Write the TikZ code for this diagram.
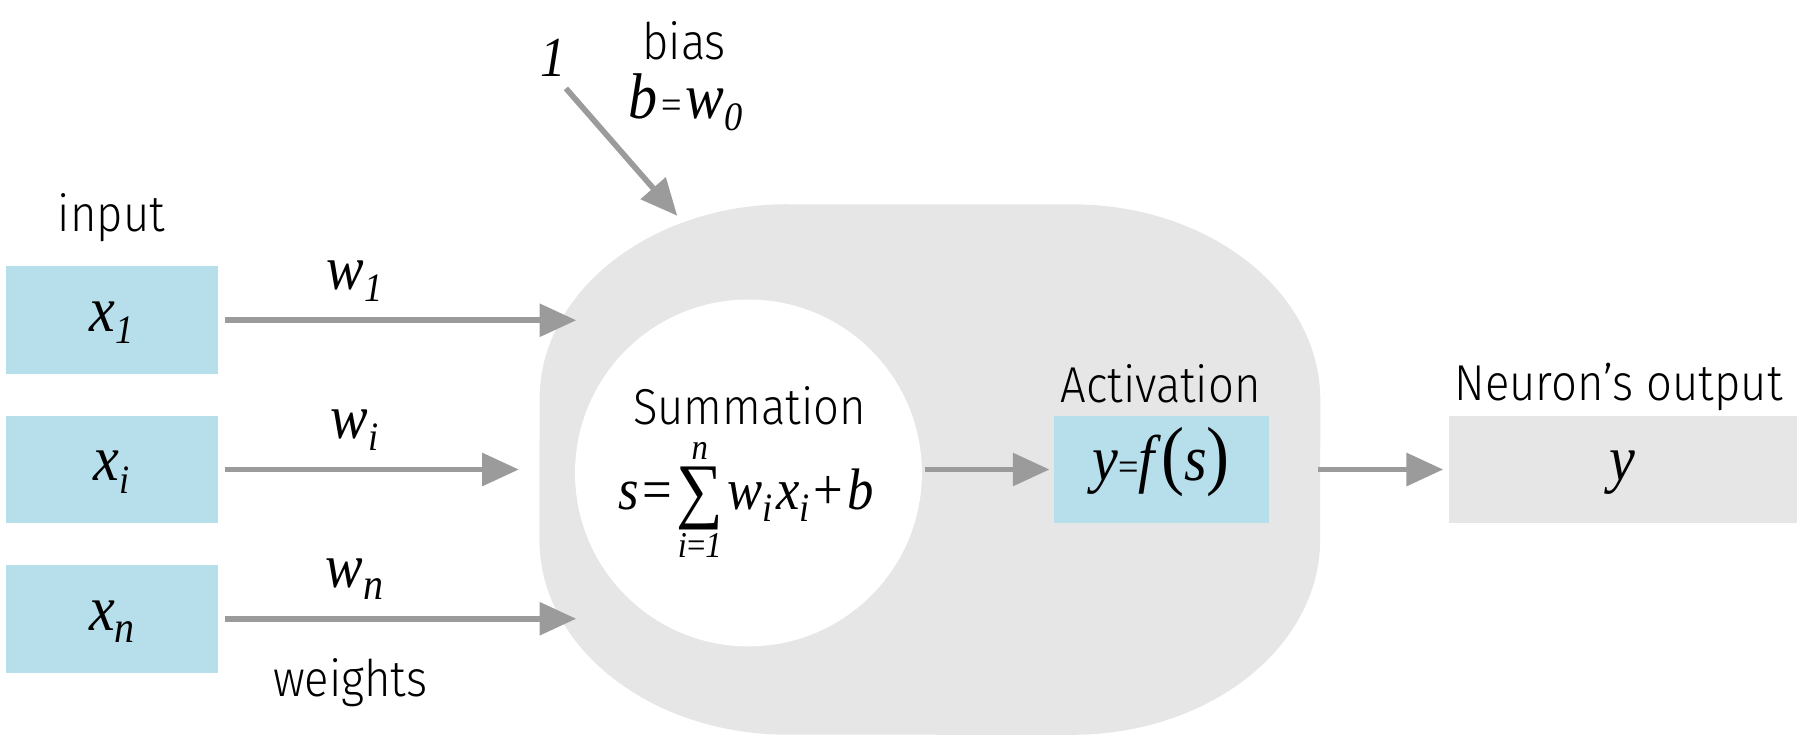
\documentclass[tikz,border=0pt]{standalone}
\usepackage{fontspec}
\setmainfont{Fira Sans Light}[FakeStretch=0.9]
\newfontfamily\tms{Liberation Serif}[FakeStretch=0.9]
\usetikzlibrary{arrows.meta}
\definecolor{boxblue}{HTML}{B7DFEB}
\definecolor{shapegray}{HTML}{E6E6E6}
\definecolor{arrowgray}{HTML}{9B9B9B}
\newsavebox\sigbox
\newcommand\msub[2][10]{\raisebox{-3pt}{\fontsize{#1}{#1}\selectfont #2}}
\newcommand\smalleq{{\upshape\fontsize{10}{10}\selectfont =}}
\newcommand\sumsym{\sbox\sigbox{\raisebox{-1.2pt}{\upshape\fontsize{18}{18}\selectfont ∑}}%
  \rlap{\makebox[\wd\sigbox][c]{\raisebox{12.5pt}{\fontsize{9}{9}\selectfont n}}}%
  \rlap{\makebox[\wd\sigbox][c]{\raisebox{-11.8pt}{\fontsize{9}{9}\selectfont i{\upshape=}1}}}%
  \usebox\sigbox}
\begin{document}
\begin{tikzpicture}[x=0.01cm,y=0.01cm,
  mfont/.style={font=\fontsize{16}{19}\selectfont\tms\itshape},
  wfont/.style={font=\fontsize{15.5}{18}\selectfont\tms\itshape, inner sep=0, anchor=base},
  boxstyle/.style={minimum height=0.94cm, inner sep=0, text height=0.3cm, text depth=0.1cm, mfont},
  inbox/.style={boxstyle, fill=boxblue, minimum width=1.85cm},
  lbl/.style={font=\fontsize{12.5}{15}\selectfont, inner sep=0, anchor=base},
  conn/.style={draw=arrowgray, line width=1.4pt, -{Triangle[length=0.32cm,width=0.28cm]}},
]
\useasboundingbox (0,0) rectangle (1568,648);
% neuron body
\fill[shapegray] (686,470) -- (934,470)
  arc[start angle=90,end angle=0,x radius=2.16cm,y radius=1.7cm] -- (1150,178)
  arc[start angle=0,end angle=-90,x radius=2.16cm,y radius=1.7cm] -- (686,8)
  arc[start angle=270,end angle=180,x radius=2.16cm,y radius=1.7cm] -- (470,300)
  arc[start angle=180,end angle=90,x radius=2.16cm,y radius=1.7cm] -- cycle;
\node[circle, fill=white, minimum size=3.02cm, inner sep=0] (sumc) at (652,236) {};
% inputs
\node[inbox] (x1) at (97.5,369) {x\msub{1}};
\node[inbox] (xi) at (97.5,239) {x\msub{i}};
\node[inbox] (xn) at (97.5,109) {x\msub[11]{n}};
\node[lbl] (inlbl) at (97,446) {input};
\node[lbl] (wlbl) at (305,41) {weights};
\node[wfont] (w1) at (309,396) {w\msub{1}};
\node[wfont] (wi) at (309,266) {w\msub{i}};
\node[wfont] (wn) at (309,136) {w\msub[11]{n}};
\coordinate (e1) at (502,369);
\coordinate (ei) at (452,239);
\coordinate (en) at (502,109);
\draw[conn] ([xshift=0.05cm]x1.east) -- (e1);
\draw[conn] ([xshift=0.05cm]xi.east) -- (ei);
\draw[conn] ([xshift=0.05cm]xn.east) -- (en);
% bias
\node[wfont, font=\fontsize{14}{16}\selectfont\tms\itshape] (one) at (482,581) {1};
\node[lbl] (biaslbl) at (596,596) {bias};
\node[wfont, font=\fontsize{16}{19}\selectfont\tms\itshape] (bw) at (597,545) {b\kern1pt\smalleq\kern1pt w\msub[10]{0}};
\coordinate (bstart) at (493,571);
\coordinate (bend) at (590,460);
\draw[conn] (bstart) -- (bend);
% summation
\node[lbl] (sumlbl) at (653,278) {Summation};
\node[anchor=base, inner sep=0, font=\fontsize{14.5}{17}\selectfont\tms\itshape] (form) at (650,204)
  {s\kern1pt{\upshape=}\kern1pt\sumsym\kern1pt w\msub[10]{i}\kern1pt x\msub[10]{i}\kern1pt{\upshape+}\kern1pt b};
% activation
\node[boxstyle, fill=boxblue, minimum width=1.87cm] (act) at (1011.5,239) {y\smalleq f\kern1.5pt{\upshape\fontsize{19}{19}\selectfont(}s{\upshape\fontsize{19}{19}\selectfont)}};
\node[lbl] (actlbl) at (1011,297) {Activation};
% output
\node[boxstyle, fill=shapegray, minimum width=3.03cm] (out) at (1413.5,239) {y};
\node[lbl] (outlbl) at (1410,299) {Neuron’s output};
\path (sumc.east |- act.west) ++(0.02cm,0) coordinate (sstart);
\draw[conn] (sstart) -- ([xshift=-0.03cm]act.west);
\draw[conn] ([xshift=0.42cm]act.east) -- ([xshift=-0.04cm]out.west);
\end{tikzpicture}
\end{document}
